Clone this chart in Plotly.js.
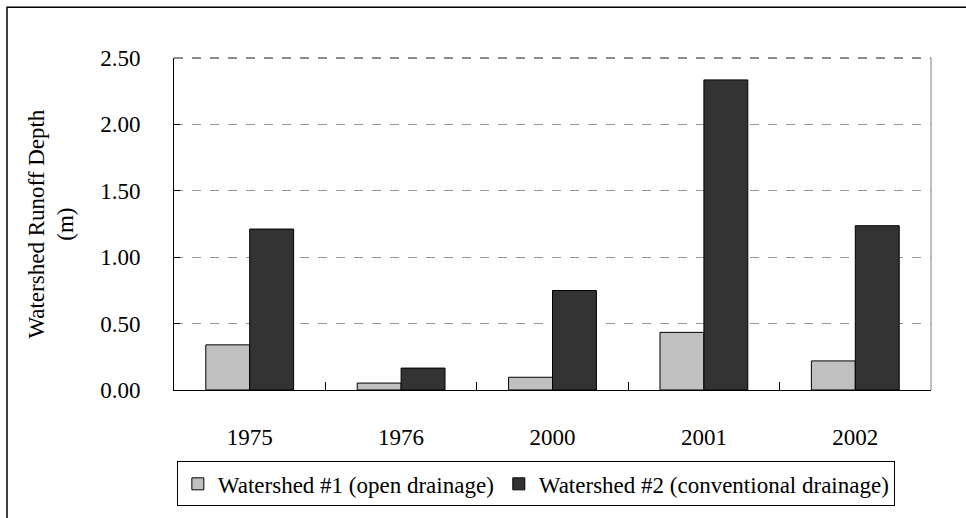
<!DOCTYPE html>
<html>
<head>
<meta charset="utf-8">
<script src="https://cdn.plot.ly/plotly-3.0.1.min.js"></script>
<style>html,body{margin:0;padding:0;background:#fff;}#chart{width:966px;height:518px;}</style>
</head>
<body>
<div id="chart"></div>
<script>
const categories = ["1975", "1976", "2000", "2001", "2002"];
const watershed1 = [0.34, 0.052, 0.096, 0.434, 0.219];
const watershed2 = [1.212, 0.165, 0.749, 2.335, 1.237];
const seriesNames = ["Watershed #1 (open drainage)", "Watershed #2 (conventional drainage)"];
const tickVals = [0, 0.5, 1.0, 1.5, 2.0, 2.5];
const tickText = ["0.00", "0.50", "1.00", "1.50", "2.00", "2.50"];

const font = {family: "Liberation Serif", size: 23, color: "#000"};

const traces = [
  {type: "bar", name: seriesNames[0], x: categories, y: watershed1,
   marker: {color: "#c0c0c0", line: {color: "#000", width: 1}}},
  {type: "bar", name: seriesNames[1], x: categories, y: watershed2,
   marker: {color: "#333333", line: {color: "#000", width: 1}}}
];

const layout = {
  width: 966, height: 518,
  margin: {l: 174, r: 35, t: 58, b: 126},
  paper_bgcolor: "#fff", plot_bgcolor: "#fff",
  font: font,
  barmode: "group", bargap: 0.42, bargroupgap: 0,
  showlegend: true,
  legend: {orientation: "h", x: 0.478, xanchor: "center", y: -0.215, yanchor: "top",
           bordercolor: "#000", borderwidth: 1, font: font, itemwidth: 30,
           tracegroupgap: 0, traceorder: "normal"},
  xaxis: {type: "category", showline: true, linecolor: "#000", linewidth: 1,
          ticks: "inside", tickson: "boundaries", ticklen: 8, tickcolor: "#000",
          showgrid: false, ticklabelstandoff: 26, tickfont: font, fixedrange: true},
  yaxis: {range: [0, 2.5], tickvals: tickVals, ticktext: tickText,
          showline: true, linecolor: "#000", linewidth: 1,
          ticks: "inside", ticklen: 6, tickcolor: "#000",
          showgrid: true, gridcolor: "#999", griddash: "dash", gridwidth: 1,
          zeroline: false, ticklabelstandoff: 28, tickfont: font, fixedrange: true},
  annotations: [
    {text: "Watershed Runoff Depth<br>(m)", xref: "paper", yref: "paper",
     x: -0.163, y: 0.5, xanchor: "center", yanchor: "middle", textangle: -90,
     showarrow: false, font: font}
  ],
  shapes: [
    {type: "line", xref: "paper", yref: "paper", x0: 1, x1: 1, y0: 0, y1: 1,
     line: {color: "#808080", width: 1}},
    {type: "line", xref: "paper", yref: "paper", x0: 0, x1: 1, y0: 1, y1: 1,
     line: {color: "#666", width: 1.5, dash: "dash"}},
    {type: "rect", xref: "paper", yref: "paper",
     x0: (7 - 174) / 757, x1: (980 - 174) / 757, y0: (392 - 530) / 334, y1: (392 - 7) / 334,
     line: {color: "#000", width: 1.5}, fillcolor: "rgba(0,0,0,0)"}
  ]
};

Plotly.newPlot("chart", traces, layout, {displayModeBar: false, staticPlot: true});
</script>
</body>
</html>
